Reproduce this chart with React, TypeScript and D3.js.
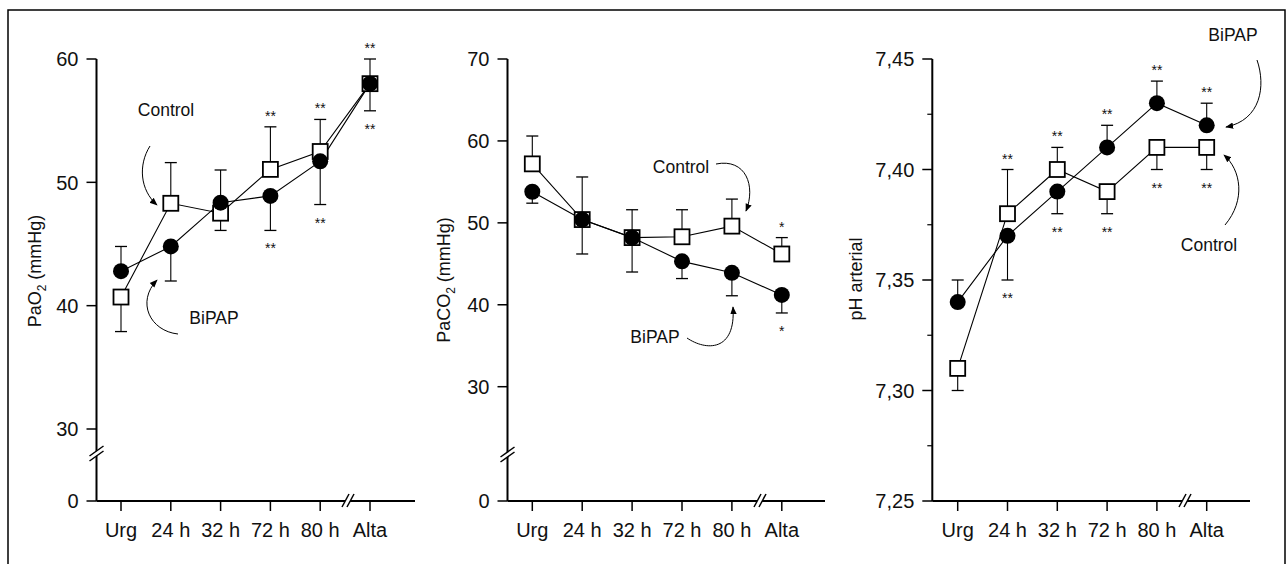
import React from 'react';
import * as d3 from 'd3';

// ---------- DATA ----------
const categories = ['Urg', '24 h', '32 h', '72 h', '80 h', 'Alta'];

// Panel 1: PaO2 (mmHg)
const pao2Bipap = [42.8, 44.8, 48.35, 48.9, 51.7, 58.0];
const pao2Control = [40.7, 48.3, 47.5, 51.05, 52.5, 58.0];
const pao2BipapHi = [44.8, null, 51.0, null, null, 60.0];
const pao2BipapLo = [null, 42.0, null, 46.1, 48.2, null];
const pao2ControlHi = [null, 51.6, null, 54.5, 55.1, null];
const pao2ControlLo = [37.9, null, 46.1, null, null, 55.8];
const pao2Ticks = [0, 30, 40, 50, 60];
const pao2Stars = [
  { i: 3, side: 'above', mark: '**' }, { i: 3, side: 'below', mark: '**' },
  { i: 4, side: 'above', mark: '**' }, { i: 4, side: 'below', mark: '**' },
  { i: 5, side: 'above', mark: '**' }, { i: 5, side: 'below', mark: '**' },
];

// Panel 2: PaCO2 (mmHg)
const paco2Bipap = [53.8, 50.4, 48.2, 45.3, 43.9, 41.2];
const paco2Control = [57.2, 50.4, 48.2, 48.3, 49.6, 46.2];
const paco2BipapHi = [null, null, null, null, null, null];
const paco2BipapLo = [52.4, 46.2, 44.0, 43.2, 41.1, 39.0];
const paco2ControlHi = [60.6, 55.6, 51.6, 51.6, 52.9, 48.2];
const paco2ControlLo = [null, null, null, null, null, null];
const paco2Ticks = [0, 30, 40, 50, 60, 70];
const paco2Stars = [
  { i: 5, side: 'above', mark: '*' }, { i: 5, side: 'below', mark: '*' },
];

// Panel 3: pH arterial
const phBipap = [7.34, 7.37, 7.39, 7.41, 7.43, 7.42];
const phControl = [7.31, 7.38, 7.40, 7.39, 7.41, 7.41];
const phBipapHi = [7.35, null, null, 7.42, 7.44, 7.43];
const phBipapLo = [null, 7.35, 7.38, null, null, null];
const phControlHi = [null, 7.40, 7.41, null, null, null];
const phControlLo = [7.30, null, null, 7.38, 7.40, 7.40];
const phTicks = [7.25, 7.30, 7.35, 7.40, 7.45];
const phMinorTicks = [7.275, 7.325, 7.375, 7.425];
const phStars = [
  { i: 1, side: 'above', mark: '**' }, { i: 1, side: 'below', mark: '**' },
  { i: 2, side: 'above', mark: '**' }, { i: 2, side: 'below', mark: '**' },
  { i: 3, side: 'above', mark: '**' }, { i: 3, side: 'below', mark: '**' },
  { i: 4, side: 'above', mark: '**' }, { i: 4, side: 'below', mark: '**' },
  { i: 5, side: 'above', mark: '**' }, { i: 5, side: 'below', mark: '**' },
];

// ---------- LAYOUT ----------
const FONT = '"Liberation Sans", Arial, Helvetica, sans-serif';
const X_AXIS_Y = 501;
const TOP_Y = 59;

type Panel = {
  axisX: number;
  firstTick: number;
  step: number;
  axisEnd: number;
  breakX: number;
  yScale: (v: number) => number;
  yBreak: number | null;
  ticks: number[];
  minor: number[];
  fmt: (v: number) => string;
  label: React.ReactNode;
  labelX: number;
  labelY: number;
  bipap: number[];
  control: number[];
  bHi: (number | null)[];
  bLo: (number | null)[];
  cHi: (number | null)[];
  cLo: (number | null)[];
  stars: { i: number; side: string; mark: string }[];
};

const intFmt = (v: number) => String(v);
const phFmt = (v: number) => d3.format('.2f')(v).replace('.', ',');

const sub = (t: string) => (
  <tspan fontSize="12" dy="5">{t}</tspan>
);

const panels: Panel[] = [
  {
    axisX: 96.5, firstTick: 121, step: 49.8, axisEnd: 415, breakX: 348,
    yScale: d3.scaleLinear().domain([0, 30, 60]).range([X_AXIS_Y, 429, TOP_Y]),
    yBreak: 455,
    ticks: pao2Ticks, minor: [], fmt: intFmt,
    label: (<>PaO{sub('2')}<tspan dy="-5"> (mmHg)</tspan></>),
    labelX: 35, labelY: 271,
    bipap: pao2Bipap, control: pao2Control,
    bHi: pao2BipapHi, bLo: pao2BipapLo, cHi: pao2ControlHi, cLo: pao2ControlLo,
    stars: pao2Stars,
  },
  {
    axisX: 507.5, firstTick: 532.3, step: 49.9, axisEnd: 825, breakX: 760,
    yScale: d3.scaleLinear().domain([0, 30, 70]).range([X_AXIS_Y, 386.7, TOP_Y]),
    yBreak: 456,
    ticks: paco2Ticks, minor: [], fmt: intFmt,
    label: (<>PaCO{sub('2')}<tspan dy="-5"> (mmHg)</tspan></>),
    labelX: 444, labelY: 280,
    bipap: paco2Bipap, control: paco2Control,
    bHi: paco2BipapHi, bLo: paco2BipapLo, cHi: paco2ControlHi, cLo: paco2ControlLo,
    stars: paco2Stars,
  },
  {
    axisX: 932.3, firstTick: 957.7, step: 49.8, axisEnd: 1250, breakX: 1185,
    yScale: d3.scaleLinear().domain([7.25, 7.45]).range([X_AXIS_Y, TOP_Y]),
    yBreak: null,
    ticks: phTicks, minor: phMinorTicks, fmt: phFmt,
    label: 'pH arterial',
    labelX: 856, labelY: 279,
    bipap: phBipap, control: phControl,
    bHi: phBipapHi, bLo: phBipapLo, cHi: phControlHi, cLo: phControlLo,
    stars: phStars,
  },
];

const annotations = [
  { text: 'Control', x: 166, y: 110, path: 'M150,146 C138,165 140,190 157,205' },
  { text: 'BiPAP', x: 214, y: 318, path: 'M178,334 C150,331 136,302 157,280' },
  { text: 'Control', x: 681, y: 167, path: 'M716,164 C746,158 756,186 746,211' },
  { text: 'BiPAP', x: 655, y: 337, path: 'M687,338 C706,351 736,352 733,307' },
  { text: 'BiPAP', x: 1233, y: 35, path: 'M1257,60 C1266,86 1261,120 1226,127' },
  { text: 'Control', x: 1209, y: 245, path: 'M1225,225 C1246,200 1241,170 1224,155' },
];

const R = 8;
const SQ = 15;

function PanelView({ p }: { p: Panel }) {
  const x = d3.scalePoint<string>()
    .domain(categories)
    .range([p.firstTick, p.firstTick + p.step * (categories.length - 1)]);
  const y = p.yScale;
  const line = d3.line<number>()
    .x((_, i) => x(categories[i]) as number)
    .y((d) => y(d));

  const errs: { x: number; y0: number; y1: number }[] = [];
  const addErr = (vals: number[], ends: (number | null)[]) => {
    ends.forEach((e, i) => {
      if (e == null) return;
      errs.push({ x: x(categories[i]) as number, y0: y(vals[i]), y1: y(e) });
    });
  };
  addErr(p.bipap, p.bHi); addErr(p.bipap, p.bLo);
  addErr(p.control, p.cHi); addErr(p.control, p.cLo);

  const starPos = p.stars.map((s) => {
    const vals = [p.bipap[s.i], p.control[s.i], p.bHi[s.i], p.bLo[s.i], p.cHi[s.i], p.cLo[s.i]]
      .filter((v) => v != null) as number[];
    const ys = vals.map((v) => y(v));
    const cy = s.side === 'above' ? Math.min(...ys) - 14 : Math.max(...ys) + 15;
    return { x: x(categories[s.i]) as number, cy, mark: s.mark };
  });

  const yTop = y(p.ticks[p.ticks.length - 1]);
  const tickLen = 10;

  return (
    <g>
      {/* y axis */}
      <line x1={p.axisX} x2={p.axisX} y1={yTop} y2={X_AXIS_Y} stroke="#000" strokeWidth={2} />
      {p.ticks.map((t) => (
        <g key={'t' + t}>
          <line x1={p.axisX - tickLen} x2={p.axisX} y1={y(t)} y2={y(t)} stroke="#000" strokeWidth={1.5} />
          <text x={p.axisX - 18} y={y(t)} dy="0.36em" textAnchor="end" fontSize={20} fontFamily={FONT} fill="#111">
            {p.fmt(t)}
          </text>
        </g>
      ))}
      {p.minor.map((t) => (
        <line key={'m' + t} x1={p.axisX - 5} x2={p.axisX} y1={y(t)} y2={y(t)} stroke="#000" strokeWidth={1.2} />
      ))}
      {p.yBreak != null && (
        <g>
          <polygon points={`${p.axisX - 7},${p.yBreak + 6} ${p.axisX + 7},${p.yBreak - 4} ${p.axisX + 7},${p.yBreak - 9} ${p.axisX - 7},${p.yBreak + 1}`} fill="#fff" />
          <line x1={p.axisX - 7} y1={p.yBreak + 6} x2={p.axisX + 7} y2={p.yBreak - 4} stroke="#000" strokeWidth={1.5} />
          <line x1={p.axisX - 7} y1={p.yBreak + 1} x2={p.axisX + 7} y2={p.yBreak - 9} stroke="#000" strokeWidth={1.5} />
        </g>
      )}
      {/* x axis */}
      <line x1={p.axisX} x2={p.axisEnd} y1={X_AXIS_Y} y2={X_AXIS_Y} stroke="#000" strokeWidth={2} />
      <g>
        <polygon points={`${p.breakX - 6},${X_AXIS_Y + 6} ${p.breakX + 1},${X_AXIS_Y - 7} ${p.breakX + 6},${X_AXIS_Y - 7} ${p.breakX - 1},${X_AXIS_Y + 6}`} fill="#fff" />
        <line x1={p.breakX - 6} y1={X_AXIS_Y + 6} x2={p.breakX + 1} y2={X_AXIS_Y - 7} stroke="#000" strokeWidth={1.5} />
        <line x1={p.breakX - 1} y1={X_AXIS_Y + 6} x2={p.breakX + 6} y2={X_AXIS_Y - 7} stroke="#000" strokeWidth={1.5} />
      </g>
      {categories.map((c) => (
        <g key={c}>
          <line x1={x(c)} x2={x(c)} y1={X_AXIS_Y} y2={X_AXIS_Y + 10} stroke="#000" strokeWidth={1.5} />
          <text x={x(c)} y={537} textAnchor="middle" fontSize={20} fontFamily={FONT} fill="#111">{c}</text>
        </g>
      ))}
      {/* y label */}
      <text transform={`translate(${p.labelX},${p.labelY}) rotate(-90)`} textAnchor="middle" dy="0.35em"
        fontSize={18} fontFamily={FONT} fill="#111">{p.label}</text>
      {/* error bars */}
      {errs.map((e, k) => (
        <g key={'e' + k}>
          <line x1={e.x} x2={e.x} y1={e.y0} y2={e.y1} stroke="#000" strokeWidth={1.1} />
          <line x1={e.x - 6} x2={e.x + 6} y1={e.y1} y2={e.y1} stroke="#000" strokeWidth={1.3} />
        </g>
      ))}
      {/* lines */}
      <path d={line(p.control) as string} fill="none" stroke="#000" strokeWidth={1.1} />
      <path d={line(p.bipap) as string} fill="none" stroke="#000" strokeWidth={1.1} />
      {/* markers */}
      {p.control.map((v, i) => (
        <rect key={'s' + i} x={(x(categories[i]) as number) - SQ / 2} y={y(v) - SQ / 2} width={SQ} height={SQ}
          fill="#fff" stroke="#000" strokeWidth={1.8} />
      ))}
      {p.bipap.map((v, i) => (
        <circle key={'c' + i} cx={x(categories[i])} cy={y(v)} r={R} fill="#000" />
      ))}
      {/* significance */}
      {starPos.map((s, k) => (
        <text key={'st' + k} x={s.x} y={s.cy + 8} textAnchor="middle" fontSize={14} fontFamily={FONT} fill="#111">{s.mark}</text>
      ))}
    </g>
  );
}

export default function App() {
  return (
    <svg width={1287} height={564} style={{ position: 'absolute', left: 0, top: 0, background: '#fff' }}>
      <defs>
        <marker id="ah" viewBox="0 0 10 10" refX="9" refY="5" markerWidth="8" markerHeight="8" orient="auto" markerUnits="userSpaceOnUse">
          <path d="M0,1 L10,5 L0,9 Z" fill="#000" />
        </marker>
      </defs>
      <rect x={0} y={0} width={1287} height={564} fill="#fff" />
      {/* frame */}
      <path d="M8,564 L8,10 L1285,10 L1285,564" fill="none" stroke="#000" strokeWidth={1.5} />
      {panels.map((p, k) => <PanelView key={k} p={p} />)}
      {annotations.map((a, k) => (
        <g key={'a' + k}>
          <text x={a.x} y={a.y} dy="0.35em" textAnchor="middle" fontSize={17.5} fontFamily={FONT} fill="#111">{a.text}</text>
          <path d={a.path} fill="none" stroke="#000" strokeWidth={1} markerEnd="url(#ah)" />
        </g>
      ))}
    </svg>
  );
}
